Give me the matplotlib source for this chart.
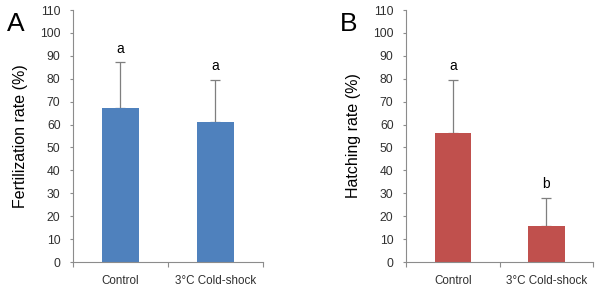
import numpy as np
import matplotlib.pyplot as plt

plt.rcParams['font.family'] = ['Liberation Sans', 'DejaVu Sans']

# data
categories = ['Control', '3°C Cold-shock']
fert_means = [67.3, 61.0]
fert_err = [19.8, 18.5]
fert_letters = ['a', 'a']
hatch_means = [56.5, 15.8]
hatch_err = [23.0, 12.2]
hatch_letters = ['a', 'b']
y_ticks = list(range(0, 111, 10))

fig = plt.figure(figsize=(6, 2.92), dpi=100)


def draw_panel(rect, means, errs, letters, color, ylabel, tag):
    ax = fig.add_axes(rect)
    x = np.arange(len(categories))
    ax.bar(x, means, width=0.39, color=color, zorder=2)
    ax.errorbar(x, means, yerr=[np.zeros(len(errs)), errs], fmt='none',
                ecolor='#7f7f7f', elinewidth=0.9, capsize=3.3, capthick=0.9, zorder=1)
    for xi, m, e, lab in zip(x, means, errs, letters):
        ax.annotate(lab, (xi, m + e), xytext=(0, 5), textcoords='offset points',
                    ha='center', va='bottom', fontsize=10)
    ax.set_xlim(-0.5, 1.5)
    ax.set_ylim(0, 110)
    ax.set_yticks(y_ticks)
    ax.tick_params(axis='y', labelsize=8.7, length=2.5, width=0.8, color='#8c8c8c',
                   labelcolor='#303030', pad=6.5)
    ax.set_xticks([-0.5, 0.5, 1.5])
    ax.set_xticklabels([])
    ax.set_xticks(x, minor=True)
    ax.set_xticklabels(categories, minor=True)
    ax.tick_params(axis='x', which='major', length=3.5, width=0.8, color='#8c8c8c', direction='out')
    ax.tick_params(axis='x', which='minor', length=0, labelsize=8.4, labelcolor='#303030', pad=9)
    for s in ['top', 'right']:
        ax.spines[s].set_visible(False)
    for s in ['left', 'bottom']:
        ax.spines[s].set_color('#8c8c8c')
        ax.spines[s].set_linewidth(0.8)
    ax.set_ylabel(ylabel, fontsize=11.5, labelpad=8.5)
    fig.text(rect[0] - 0.11, 0.958, tag, fontsize=19, va='top', ha='left')
    return ax


draw_panel([0.1217, 0.1027, 0.3163, 0.863], fert_means, fert_err, fert_letters,
           '#4f81bd', 'Fertilization rate (%)', 'A')
draw_panel([0.6767, 0.1027, 0.3117, 0.863], hatch_means, hatch_err, hatch_letters,
           '#c0504d', 'Hatching rate (%)', 'B')

fig.savefig('out.png', dpi=100)
